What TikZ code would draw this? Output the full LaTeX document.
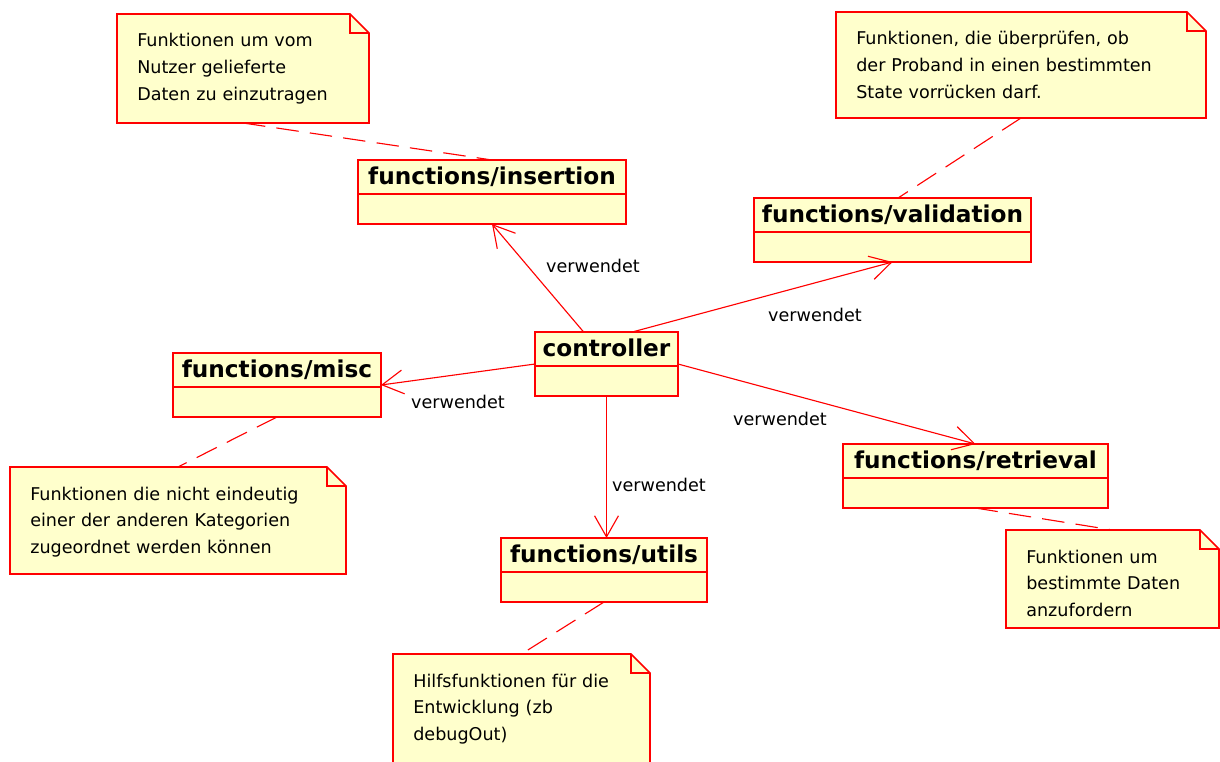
\documentclass[tikz,border=0pt]{standalone}
\usepackage{fontspec}
\setmainfont{DejaVu Sans}
\usepackage{tikz}
\usetikzlibrary{positioning,arrows.meta,calc}
\usepackage{xcolor}
\definecolor{umlred}{RGB}{255,0,0}
\definecolor{umlfill}{RGB}{255,255,204}

% class box: name, left, top, right, title
\newcommand{\umlclass}[5]{%
  \node[classbox,minimum width={(#4-#2)*0.025cm},anchor=north west] (#1) at (#2,#3) {};
  \draw[umlborder] ($(#1.north west)+(0,34)$) -- ($(#1.north east)+(0,34)$);
  \node[classname,anchor=base] (#1-name) at ($(#1.north)+(0,24.5)$) {#5};
}
% note: name, left, top, right, bottom, text
\newcommand{\umlnote}[6]{%
  \node[inner sep=0,outer sep=0,minimum width={(#4-#2)*0.025cm},minimum height={(#5-#3)*0.025cm},anchor=north west] (#1) at (#2,#3) {};
  \draw[notebox] (#1.north west) -- ($(#1.north east)+(-19,0)$) -- ($(#1.north east)+(0,19)$) -- (#1.south east) -- (#1.south west) -- cycle;
  \draw[umlborder] ($(#1.north east)+(-19,0)$) |- ($(#1.north east)+(0,19)$);
  \node[notetext,anchor=base west] (#1-text) at ($(#1.north west)+(20,33)$) {#6};
}

\begin{document}
\begin{tikzpicture}[x=0.025cm,y=-0.025cm,
  umlline/.style={draw=umlred,line width=0.8pt},
  umlborder/.style={draw=umlred,line width=1.1pt},
  classbox/.style={umlborder,fill=umlfill,minimum height=1.6cm,inner sep=0,outer sep=0},
  classname/.style={font=\fontsize{16.5}{20}\selectfont\bfseries,inner sep=0},
  notebox/.style={umlborder,fill=umlfill,line join=miter},
  notetext/.style={font=\fontsize{12.5}{19.1}\selectfont,text width=10cm,align=left,inner sep=0},
  uses/.style={umlline,-{Straight Barb[length=15pt,width=17pt,line width=0.8pt]}},
  usage/.style={font=\fontsize{12.5}{15}\selectfont,inner sep=0},
  anno/.style={umlline,dash pattern=on 16pt off 8pt}]
\useasboundingbox (0,0) rectangle (1220,761);
\clip (0,0) rectangle (1220,761);
\fill[white] (0,0) rectangle (1220,761);

% classes
\umlclass{ins}{358}{160}{626}{functions/insertion}
\umlclass{val}{754}{198}{1031}{functions/validation}
\umlclass{ctrl}{535}{332}{678}{controller}
\umlclass{misc}{173}{353}{381}{functions/misc}
\umlclass{retr}{843}{444}{1108}{functions/retrieval}
\umlclass{utils}{501}{538}{707}{functions/utils}

% notes
\umlnote{n-ins}{117}{14}{369}{123}{Funktionen um vom\\Nutzer gelieferte\\Daten zu einzutragen}
\umlnote{n-val}{836}{12}{1206}{118}{Funktionen, die überprüfen, ob\\der Proband in einen bestimmten\\State vorrücken darf.}
\umlnote{n-misc}{10}{467}{346}{574}{Funktionen die nicht eindeutig\\einer der anderen Kategorien\\zugeordnet werden können}
\umlnote{n-utils}{393}{654}{650}{775}{Hilfsfunktionen für die\\Entwicklung (zb\\debugOut)}
\umlnote{n-retr}{1006}{530}{1219}{628}{Funktionen um\\bestimmte Daten\\anzufordern}

% dependencies
\draw[uses] ($(ctrl.north west)!0.34!(ctrl.north east)$) -- (ins.south);
\draw[uses] ($(ctrl.north west)!0.68!(ctrl.north east)$) -- (val.south);
\draw[uses] (ctrl.west) -- (misc.east);
\draw[uses] (ctrl.south) -- (ctrl.south |- utils.north);
\draw[uses] (ctrl.east) -- (retr.north);
\node[usage] (u-ins) at (593,266) {verwendet};
\node[usage] (u-val) at (815,315) {verwendet};
\node[usage] (u-misc) at (458,402) {verwendet};
\node[usage] (u-utils) at (659,485) {verwendet};
\node[usage] (u-retr) at (780,419) {verwendet};

% note links
\draw[anno] (n-ins.south) -- (ins.north);
\draw[anno] (n-val.south) -- ($(val.north west)!0.52!(val.north east)$);
\draw[anno] (misc.south) -- (n-misc.north);
\draw[anno] (utils.south) -- (n-utils.north);
\draw[anno] (retr.south) -- (n-retr.north);
\end{tikzpicture}
\end{document}
